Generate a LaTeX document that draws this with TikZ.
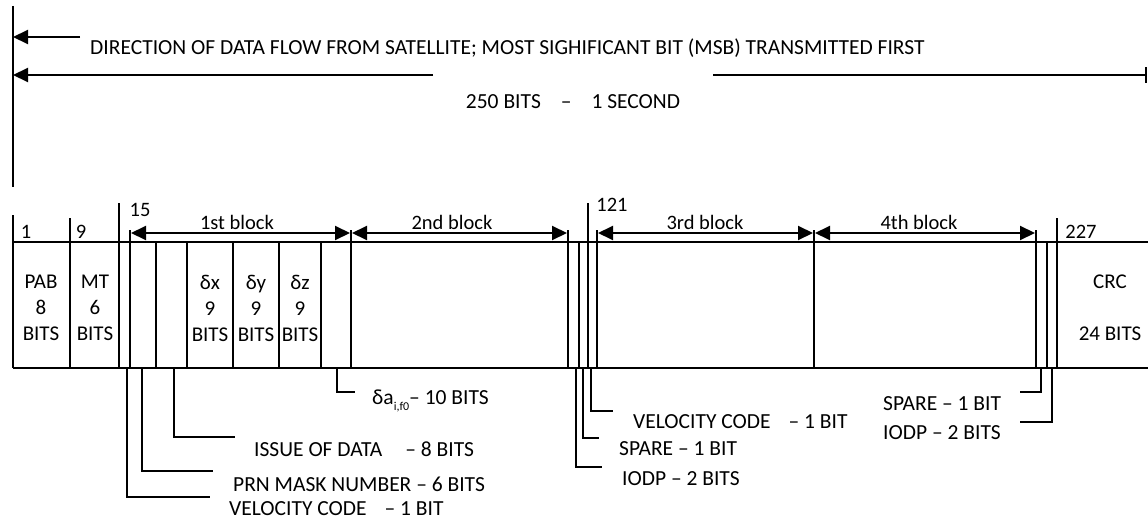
\documentclass[tikz,border=0pt]{standalone}
\usepackage{fontspec}
\setmainfont{Carlito}
\usetikzlibrary{
    arrows.meta,
    positioning
}
\tikzset{
    >={Triangle[length=15pt,width=14pt]},
    marco/.style={line width=1.3pt},
    flecha/.style={line width=2pt},
    guia/.style={line width=1.3pt},
    texto/.style={
        font=\fontsize{21.5}{25}\selectfont,
        inner sep=0pt
    },
    numero/.style={
        font=\fontsize{20.5}{24}\selectfont,
        inner sep=0pt
    },
    celda/.style={
        font=\fontsize{21}{26}\selectfont,
        align=center,
        inner sep=0pt
    }
}

\begin{document}
\begin{tikzpicture}[x=1pt, y=-1pt]

    \useasboundingbox (0,0) rectangle (1148,519);

    % Flujo de datos
    \coordinate (tope)  at (13,6);
    \coordinate (base)  at (13,187);
    \coordinate (dir)   at (13,37);
    \coordinate (dur)   at (13,75);
    \coordinate (fin)   at (1147,75);

    \draw[marco] (tope) -- (base);
    \draw[flecha, ->] (80,37) -- (dir);
    \draw[flecha, {Bar[width=15pt]}-] (fin) -- (713,75);
    \draw[flecha, ->] (433,75) -- (dur);

    \node[texto, anchor=west] (ldir) at (90,48)
        {DIRECTION OF DATA FLOW FROM SATELLITE; MOST SIGHIFICANT BIT (MSB) TRANSMITTED FIRST};
    \node[texto] (ldur) at (573,102)
        {250 BITS\hspace{20pt}–\hspace{20pt}1 SECOND};

    % Marco del mensaje
    \draw[marco] (13,242) -- (1148,242);
    \draw[marco] (13,368) -- (1148,368);

    % Separadores de campos (x / altura superior)
    \foreach \x/\h in {13/215, 70/218, 119/203, 130/230, 156/242, 187/242,
                       233/242, 279/242, 321/242, 351/230, 568/230, 579/242,
                       588/203, 597/230, 814/230, 1036/230, 1047/242, 1057/218}
        \draw[marco] (\x,\h) -- (\x,368);

    % Numeros de bit
    \node[numero] (b1)   at (26,232)  {1};
    \node[numero] (b9)   at (81,232)  {9};
    \node[numero] (b15)  at (140,210) {15};
    \node[numero] (b121) at (612,205) {121};
    \node[numero] (b227) at (1081,232) {227};

    % Bloques
    \draw[flecha, <->] (131,233) -- (350,233);
    \draw[flecha, <->] (352,233) -- (567,233);
    \draw[flecha, <->] (598,233) -- (813,233);
    \draw[flecha, <->] (815,233) -- (1035,233);

    \node[numero] (blq1) at (237,222) {1st block};
    \node[numero] (blq2) at (452,222) {2nd block};
    \node[numero] (blq3) at (705,222) {3rd block};
    \node[numero] (blq4) at (919,222) {4th block};

    % Campos
    \node[celda] (pab) at (41,308)  {PAB\\8\\BITS};
    \node[celda] (mt)  at (95,308)  {MT\\6\\BITS};
    \node[celda] (dx)  at (210,308) {δx\\9\\BITS};
    \node[celda] (dy)  at (256,308) {δy\\9\\BITS};
    \node[celda] (dz)  at (300,308) {δz\\9\\BITS};
    \node[celda] (crc) at (1110,282) {CRC};
    \node[celda] (crcb) at (1110,334) {24 BITS};

    % Etiquetas inferiores
    \node[texto, anchor=west] (vc1)  at (229,509)
        {VELOCITY CODE\hspace{18pt}– 1 BIT};
    \node[texto, anchor=west] (prn)  at (233,484)
        {PRN MASK NUMBER – 6 BITS};
    \node[texto, anchor=west] (iod)  at (254,449)
        {ISSUE OF DATA\hspace{23pt}– 8 BITS};
    \node[texto, anchor=west] (dai)  at (372,401)
        {δa\raisebox{-6pt}{\fontsize{12}{14}\selectfont i,f0}– 10 BITS};
    \node[texto, anchor=west] (vc2)  at (633,422)
        {VELOCITY CODE\hspace{18pt}– 1 BIT};
    \node[texto, anchor=west] (sp1)  at (619,449)
        {SPARE – 1 BIT};
    \node[texto, anchor=west] (iodp1) at (622,479)
        {IODP – 2 BITS};
    \node[texto, anchor=west] (sp2)  at (883,404)
        {SPARE – 1 BIT};
    \node[texto, anchor=west] (iodp2) at (883,433)
        {IODP – 2 BITS};

    % Lineas guia
    \draw[guia] (127,368) |- ([shift={(-19,-12)}]vc1.west);
    \draw[guia] (142,368) |- ([shift={(-20,-13)}]prn.west);
    \draw[guia] (174,368) |- ([shift={(-19,-12)}]iod.west);
    \draw[guia] (337,368) |- ([shift={(-17,-9)}]dai.west);
    \draw[guia] (591,368) |- ([shift={(-20,-11)}]vc2.west);
    \draw[guia] (583,368) |- ([shift={(-20,-11)}]sp1.west);
    \draw[guia] (576,368) |- ([shift={(-20,-12)}]iodp1.west);
    \draw[guia] (1041,368) |- ([shift={(19,-12)}]sp2.east);
    \draw[guia] (1052,368) |- ([shift={(19,-11)}]iodp2.east);

\end{tikzpicture}
\end{document}
